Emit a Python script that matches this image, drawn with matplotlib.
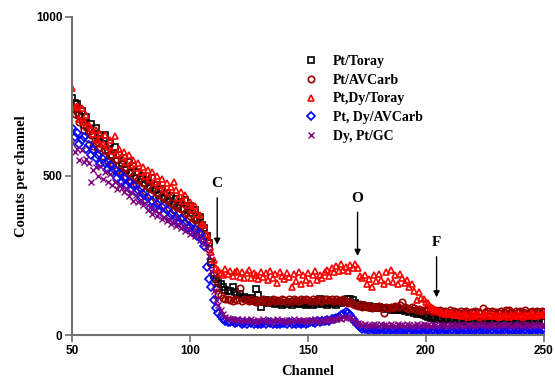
import matplotlib
matplotlib.use("Agg")
import matplotlib.pyplot as plt

channels = list(range(50, 251))

pt_toray = [
    745, 730, 725, 690, 705, 660, 685, 640, 662, 630,
    652, 615, 625, 600, 630, 580, 605, 565, 590, 550,
    565, 540, 555, 520, 545, 510, 530, 495, 512, 490,
    500, 478, 488, 462, 495, 455, 470, 440, 458, 432,
    445, 420, 438, 412, 428, 402, 418, 395, 425, 392,
    405, 385, 392, 365, 372, 345, 335, 310, 290, 230,
    190, 175, 165, 160, 150, 142, 140, 138, 150, 135,
    125, 130, 118, 120, 115, 112, 118, 110, 145, 125,
    88, 105, 110, 100, 108, 102, 98, 105, 100, 96,
    102, 98, 105, 95, 100, 104, 97, 99, 103, 95,
    98, 100, 96, 104, 99, 112, 97, 101, 95, 100,
    98, 102, 96, 105, 100, 108, 104, 112, 115, 110,
    100, 96, 92, 95, 90, 88, 92, 86, 90, 85,
    88, 84, 86, 82, 85, 80, 84, 78, 82, 80,
    78, 75, 80, 72, 75, 70, 68, 72, 65, 62,
    60, 58, 55, 57, 52, 54, 50, 52, 48, 50,
    48, 50, 46, 48, 45, 47, 44, 46, 48, 44,
    45, 43, 46, 42, 44, 46, 41, 43, 45, 42,
    44, 40, 43, 45, 41, 44, 42, 40, 43, 41,
    42, 44, 40, 43, 41, 45, 40, 42, 44, 41,
    43]

pt_avcarb = [
    715, 695, 700, 670, 672, 645, 655, 615, 628, 595,
    602, 585, 592, 562, 580, 548, 562, 540, 550, 520,
    535, 512, 525, 498, 510, 485, 500, 475, 488, 462,
    478, 452, 468, 440, 458, 430, 448, 422, 438, 410,
    428, 400, 415, 392, 405, 385, 395, 372, 385, 365,
    375, 355, 362, 342, 340, 322, 315, 295, 270, 225,
    180, 150, 130, 125, 118, 115, 112, 110, 108, 112,
    110, 148, 108, 112, 110, 106, 112, 108, 104, 110,
    106, 112, 108, 104, 110, 114, 106, 110, 108, 112,
    110, 105, 112, 108, 115, 110, 106, 112, 109, 113,
    110, 107, 112, 108, 114, 110, 106, 112, 115, 109,
    112, 108, 114, 110, 105, 112, 108, 100, 104, 98,
    95, 92, 98, 90, 94, 88, 92, 86, 90, 88,
    92, 85, 70, 88, 84, 90, 86, 92, 88, 95,
    105, 90, 86, 82, 88, 84, 78, 82, 76, 80,
    78, 82, 76, 74, 80, 75, 78, 72, 76, 74,
    78, 72, 76, 74, 70, 75, 73, 77, 70, 74,
    72, 76, 74, 70, 85, 73, 77, 71, 75, 72,
    74, 70, 76, 72, 78, 80, 74, 71, 76, 73,
    75, 72, 78, 70, 74, 77, 72, 75, 73, 76,
    74]

ptdy_toray = [
    775, 715, 720, 680, 712, 670, 690, 660, 650, 632,
    645, 612, 632, 600, 628, 590, 612, 578, 625, 570,
    585, 558, 575, 545, 565, 535, 550, 525, 540, 512,
    528, 500, 520, 490, 512, 480, 500, 470, 490, 460,
    478, 450, 465, 480, 455, 432, 448, 420, 440, 410,
    418, 395, 405, 380, 378, 350, 345, 318, 300, 260,
    235, 212, 205, 195, 188, 208, 192, 200, 185, 198,
    202, 182, 198, 178, 195, 205, 180, 196, 188, 175,
    198, 182, 195, 172, 200, 178, 192, 165, 198, 185,
    175, 195, 182, 150, 192, 170, 198, 160, 188, 172,
    195, 165, 188, 200, 172, 190, 180, 198, 205, 185,
    210, 198, 218, 200, 222, 205, 215, 200, 220, 210,
    222, 210, 185, 178, 190, 160, 175, 150, 188, 170,
    192, 172, 162, 198, 170, 205, 168, 190, 160, 192,
    180, 165, 172, 150, 162, 140, 110, 135, 118, 112,
    105, 100, 90, 85, 80, 75, 72, 70, 68, 72,
    65, 70, 62, 68, 64, 60, 66, 63, 58, 65,
    60, 64, 67, 58, 62, 65, 60, 66, 59, 63,
    61, 58, 64, 60, 62, 57, 63, 59, 65, 60,
    62, 58, 64, 60, 63, 70, 61, 59, 64, 62,
    65]

ptdy_avcarb = [
    650, 622, 635, 600, 612, 622, 585, 598, 565, 582,
    555, 565, 538, 552, 540, 522, 535, 512, 520, 495,
    508, 482, 495, 472, 482, 455, 470, 448, 455, 430,
    442, 420, 432, 398, 422, 400, 412, 392, 402, 382,
    392, 372, 382, 362, 372, 355, 365, 342, 352, 335,
    340, 325, 332, 312, 318, 300, 280, 215, 175, 150,
    110, 85, 70, 60, 52, 45, 42, 40, 45, 38,
    40, 42, 36, 38, 35, 40, 37, 35, 38, 34,
    36, 38, 35, 40, 37, 34, 38, 36, 35, 39,
    37, 35, 40, 36, 38, 34, 37, 35, 39, 36,
    38, 40, 42, 39, 44, 41, 45, 43, 48, 46,
    50, 52, 55, 58, 62, 68, 72, 70, 62, 50,
    40, 32, 25, 20, 18, 20, 16, 18, 15, 17,
    16, 18, 15, 17, 14, 16, 18, 15, 17, 14,
    16, 15, 18, 14, 16, 17, 15, 13, 16, 14,
    15, 17, 14, 16, 13, 15, 17, 14, 16, 15,
    13, 16, 14, 17, 15, 13, 16, 14, 15, 17,
    14, 16, 13, 15, 17, 14, 16, 13, 15, 14,
    16, 14, 17, 15, 13, 16, 14, 15, 17, 13,
    15, 14, 16, 13, 15, 17, 14, 16, 13, 15,
    14]

dypt_gc = [
    605, 575, 585, 550, 580, 545, 552, 540, 482, 520,
    528, 500, 530, 490, 512, 482, 505, 470, 482, 460,
    472, 462, 448, 458, 438, 448, 422, 440, 418, 425,
    408, 415, 392, 402, 382, 392, 375, 385, 365, 372,
    358, 365, 350, 358, 342, 350, 335, 342, 328, 335,
    318, 325, 312, 318, 298, 305, 285, 275, 250, 200,
    140, 110, 95, 80, 65, 58, 55, 52, 50, 48,
    52, 46, 50, 45, 48, 44, 50, 46, 42, 48,
    45, 50, 44, 47, 42, 48, 45, 50, 43, 47,
    46, 42, 48, 44, 50, 45, 47, 43, 49, 46,
    44, 48, 45, 50, 46, 42, 48, 45, 50, 47,
    48, 52, 50, 55, 52, 56, 54, 58, 55, 50,
    42, 38, 35, 32, 34, 30, 33, 31, 35, 32,
    30, 34, 31, 33, 29, 35, 32, 30, 34, 31,
    33, 30, 34, 31, 29, 33, 35, 30, 32, 34,
    31, 33, 30, 35, 32, 29, 34, 31, 33, 30,
    32, 35, 30, 33, 31, 34, 29, 32, 35, 31,
    33, 30, 34, 31, 35, 32, 29, 33, 31, 34,
    30, 33, 35, 31, 32, 34, 30, 33, 31, 35,
    32, 29, 34, 31, 33, 30, 35, 32, 31, 33,
    30]

series = [
    ("Pt/Toray", pt_toray, "s", "black"),
    ("Pt/AVCarb", pt_avcarb, "o", "#990000"),
    ("Pt,Dy/Toray", ptdy_toray, "^", "red"),
    ("Pt, Dy/AVCarb", ptdy_avcarb, "D", "blue"),
    ("Dy, Pt/GC", dypt_gc, "x", "purple"),
]

serif = "Liberation Serif"
sans = "Liberation Sans"

fig = plt.figure(figsize=(5.55, 3.8), dpi=100)
ax = fig.add_axes([0.13, 0.118, 0.85, 0.838])

marker_size = {"s": 4.6, "o": 4.6, "^": 4.6, "D": 4.0, "x": 4.0}
for name, vals, mk, col in series:
    ax.plot(channels, vals, linestyle="none", marker=mk, markersize=marker_size[mk],
            markerfacecolor="none", markeredgecolor=col,
            markeredgewidth=1.0 if mk == "x" else 1.2, label=name)

ax.set_xlim(50, 250)
ax.set_ylim(0, 1000)
ax.set_xticks([50, 100, 150, 200, 250])
ax.set_yticks([0, 500, 1000])
for sp in ["top", "right"]:
    ax.spines[sp].set_visible(False)
for sp in ["left", "bottom"]:
    ax.spines[sp].set_color("#707070")
    ax.spines[sp].set_linewidth(1.5)
ax.tick_params(direction="out", length=5, width=1.2, color="#707070", pad=2)
for lab in ax.get_xticklabels() + ax.get_yticklabels():
    lab.set_fontfamily(sans)
    lab.set_fontweight("bold")
    lab.set_fontsize(8.5)

ax.set_xlabel("Channel", fontfamily=serif, fontweight="bold", fontsize=10.5, labelpad=6)
ax.set_ylabel("Counts per channel", fontfamily=serif, fontweight="bold", fontsize=10.5, labelpad=6)

leg = ax.legend(loc="upper left", bbox_to_anchor=(0.465, 0.92), frameon=False,
                handlelength=1.0, handletextpad=1.1, labelspacing=0.42,
                prop={"family": serif, "weight": "bold", "size": 10})

arrow = dict(arrowstyle="-|>", color="black", lw=1.0, mutation_scale=9)
notes = [("C", 111.5, 440, 275), ("O", 171, 395, 240), ("F", 204.5, 255, 110)]
for txt, x, y0, y1 in notes:
    ax.annotate("", xy=(x, y1), xytext=(x, y0), arrowprops=arrow)
    ax.text(x, y0 + 15, txt, ha="center", va="bottom", fontfamily=serif,
            fontweight="bold", fontsize=11)

fig.savefig("out.png", dpi=100)
